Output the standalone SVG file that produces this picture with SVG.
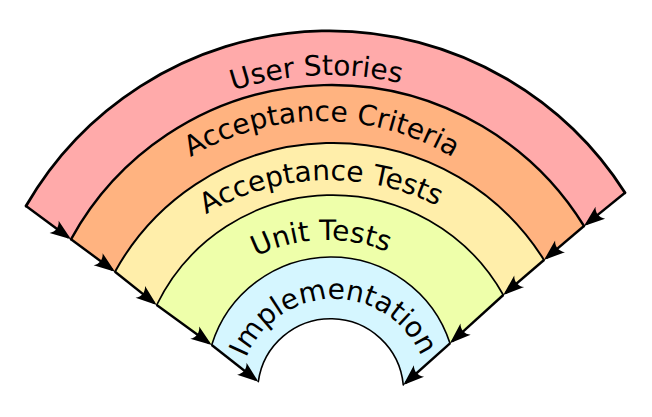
<svg xmlns="http://www.w3.org/2000/svg" xmlns:xlink="http://www.w3.org/1999/xlink" width="652" height="417" viewBox="0 0 652 417">
<style>
.band{stroke:none}
.arc{fill:none;stroke:#000;stroke-linecap:round}
.edge{fill:none;stroke:#000;stroke-width:2.4}
.lbl{font-family:"DejaVu Sans","Verdana",sans-serif;font-size:28px;fill:#000}
</style>
<defs>
<marker id="arr" markerUnits="userSpaceOnUse" orient="auto" refX="0" refY="0" markerWidth="40" markerHeight="40" overflow="visible">
<path d="M3,0 L-18,-7.6 C-13.8,-3 -13.8,3 -18,7.6 Z" fill="#000"/>
</marker>
<path id="t1" d="M57.6,240.5 A307,307 0 0 1 588.8,216.8"/>
<path id="t2" d="M81.9,288.8 A255,255 0 0 1 561.4,289.6"/>
<path id="t3" d="M103.3,344.2 A237.4,237.4 0 0 1 549.1,328.3"/>
<path id="t4" d="M177.4,348.8 A157.1,157.1 0 0 1 472.5,338"/>
<path id="t5" d="M240.6,411.4 A95,95 0 1 1 427.7,409.6"/>
</defs>
<g id="user-stories">
<path class="band" fill="#ffaaaa" d="M26,206 A350.6,350.6 0 0 1 625,192.7 L584,226 A296.8,296.8 0 0 0 71,239.3 Z"/>
<path class="arc" stroke-width="2.8" d="M26,206 A350.6,350.6 0 0 1 625,192.7"/>
<text class="lbl"><textPath xlink:href="#t1" href="#t1" startOffset="50%" text-anchor="middle">User Stories</textPath></text>
</g>
<g id="acceptance-criteria">
<path class="band" fill="#ffb380" d="M71,239.3 A296.8,296.8 0 0 1 584,226 L544,260 A248.9,248.9 0 0 0 115,271.7 Z"/>
<path class="arc" stroke-width="2.4" d="M71,239.3 A296.8,296.8 0 0 1 584,226"/>
<text class="lbl"><textPath xlink:href="#t2" href="#t2" startOffset="50%" text-anchor="middle">Acceptance Criteria</textPath></text>
</g>
<g id="acceptance-tests">
<path class="band" fill="#ffeeaa" d="M115,271.7 A248.9,248.9 0 0 1 544,260 L503.3,295 A195.7,195.7 0 0 0 156.7,305 Z"/>
<path class="arc" stroke-width="2" d="M115,271.7 A248.9,248.9 0 0 1 544,260"/>
<text class="lbl"><textPath xlink:href="#t3" href="#t3" startOffset="50%" text-anchor="middle">Acceptance Tests</textPath></text>
</g>
<g id="unit-tests">
<path class="band" fill="#eeffaa" d="M156.7,305 A195.7,195.7 0 0 1 503.3,295 L450,343.3 A125,125 0 0 0 211.7,345 Z"/>
<path class="arc" stroke-width="1.7" d="M156.7,305 A195.7,195.7 0 0 1 503.3,295"/>
<text class="lbl"><textPath xlink:href="#t4" href="#t4" startOffset="50%" text-anchor="middle">Unit Tests</textPath></text>
</g>
<g id="implementation">
<path class="band" fill="#d5f6ff" d="M211.7,345 A125,125 0 0 1 450,343.3 L403.3,385 A73,73 0 0 0 258.3,381.7 Z"/>
<path class="arc" stroke-width="1.6" d="M211.7,345 A125,125 0 0 1 450,343.3"/>
<path class="arc" stroke-width="1.6" d="M258.3,381.7 A73,73 0 0 1 403.3,385"/>
<text class="lbl"><textPath xlink:href="#t5" href="#t5" startOffset="50%" text-anchor="middle">Implementation</textPath></text>
</g>
<g id="connectors">
<path class="edge" marker-end="url(#arr)" d="M26,206 L68.59,237.52"/>
<path class="edge" marker-end="url(#arr)" d="M71,239.3 L112.58,269.92"/>
<path class="edge" marker-end="url(#arr)" d="M115,271.7 L154.36,303.13"/>
<path class="edge" marker-end="url(#arr)" d="M156.7,305 L209.27,343.24"/>
<path class="edge" marker-end="url(#arr)" d="M211.7,345 L255.94,379.84"/>
<path class="edge" marker-end="url(#arr)" d="M625,192.7 L586.33,224.11"/>
<path class="edge" marker-end="url(#arr)" d="M584,226 L546.29,258.06"/>
<path class="edge" marker-end="url(#arr)" d="M544,260 L505.57,293.04"/>
<path class="edge" marker-end="url(#arr)" d="M503.3,295 L452.22,341.29"/>
<path class="edge" marker-end="url(#arr)" d="M450,343.3 L405.54,383"/>
</g>
</svg>
